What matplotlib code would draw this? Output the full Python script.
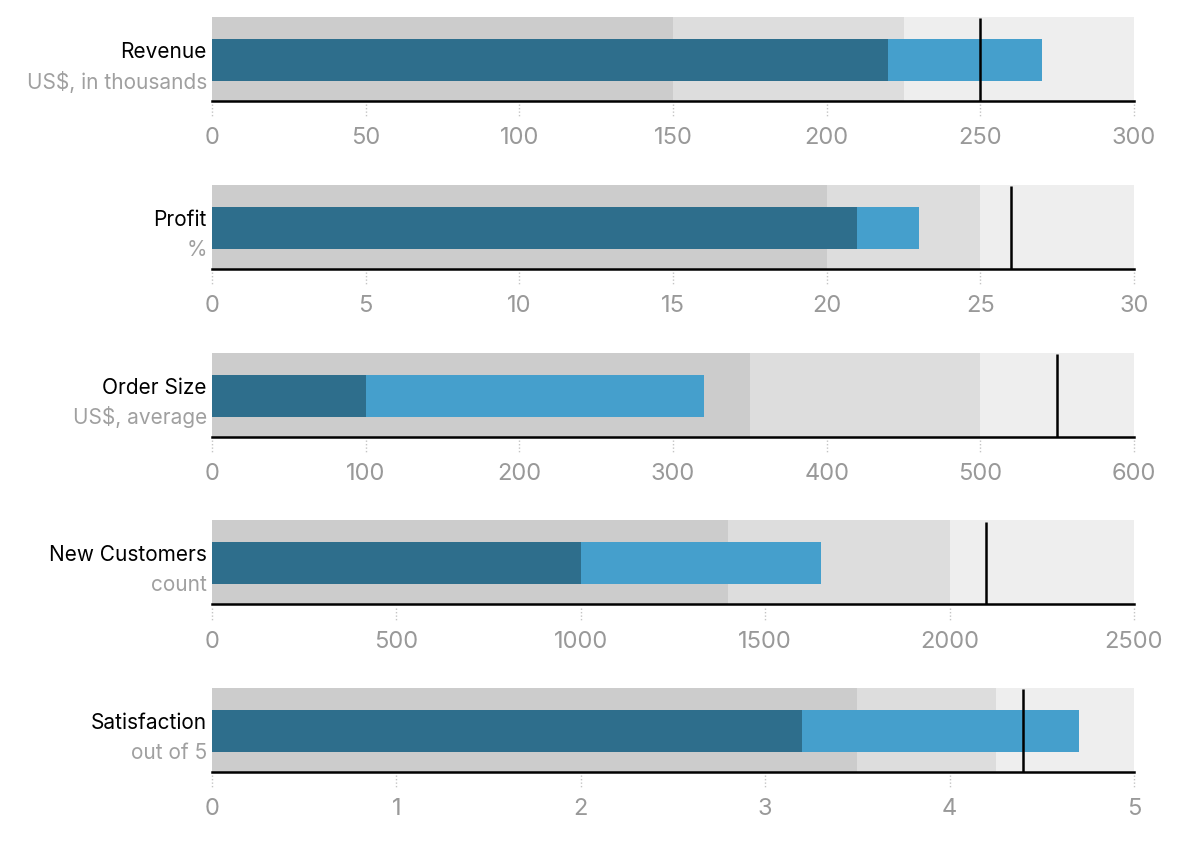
import numpy as np
import matplotlib.pyplot as plt

plt.rcParams['font.family'] = ['Inter', 'DejaVu Sans']

titles = ['Revenue', 'Profit', 'Order Size', 'New Customers', 'Satisfaction']
subtitles = ['US$, in thousands', '%', 'US$, average', 'count', 'out of 5']
ranges = [[150, 225, 300], [20, 25, 30], [350, 500, 600], [1400, 2000, 2500], [3.5, 4.25, 5]]
measures = [[220, 270], [21, 23], [100, 320], [1000, 1650], [3.2, 4.7]]
markers = [250, 26, 550, 2100, 4.4]
tick_steps = [50, 5, 100, 500, 1]

range_colors = ['#cccccc', '#dddddd', '#eeeeee']
measure_colors = ['#2e6e8c', '#459fcc']

W, H = 1200, 858
fig = plt.figure(figsize=(12, 8.58), dpi=100)

for i in range(5):
    top = 17 + i * 167.75
    ax = fig.add_axes([212 / W, 1 - (top + 84) / H, 922 / W, 84 / H])
    rmax = ranges[i][-1]

    # ranges, largest first
    for r, c in sorted(zip(ranges[i], range_colors), reverse=True):
        ax.barh(0.5, r, height=1.0, color=c, left=0, edgecolor='none')
    # measures, largest first
    for m, c in sorted(zip(measures[i], measure_colors), reverse=True):
        ax.barh(0.488, m, height=0.5, color=c, edgecolor='none')
    # marker
    ax.plot([markers[i], markers[i]], [0, 0.985], color='black', lw=1.8, solid_capstyle='butt')

    ax.set_xlim(0, rmax)
    ax.set_ylim(0, 1)
    ax.set_yticks([])
    for s in ['top', 'left', 'right']:
        ax.spines[s].set_visible(False)
    ax.spines['bottom'].set_linewidth(1.8)
    ax.spines['bottom'].set_color('black')

    ticks = np.arange(0, rmax + tick_steps[i] / 2, tick_steps[i])
    ax.set_xticks(ticks)
    ax.set_xticklabels(['%g' % t for t in ticks])
    ax.tick_params(axis='x', length=0, pad=19, labelsize=17, labelcolor='#999999')
    trans = ax.get_xaxis_transform()
    for t in ticks:
        ax.plot([t, t], [-0.04, -0.19], transform=trans, color='#c4c4c4', lw=1,
                linestyle=(0, (1, 1.5)), clip_on=False)

    fig.text(207 / W, 1 - (top + 35) / H, titles[i], ha='right', va='center',
             fontsize=15, color='black')
    fig.text(207 / W, 1 - (top + 65) / H, subtitles[i], ha='right', va='center',
             fontsize=15, color='#a0a0a0')

fig.savefig('out.png', dpi=100)
